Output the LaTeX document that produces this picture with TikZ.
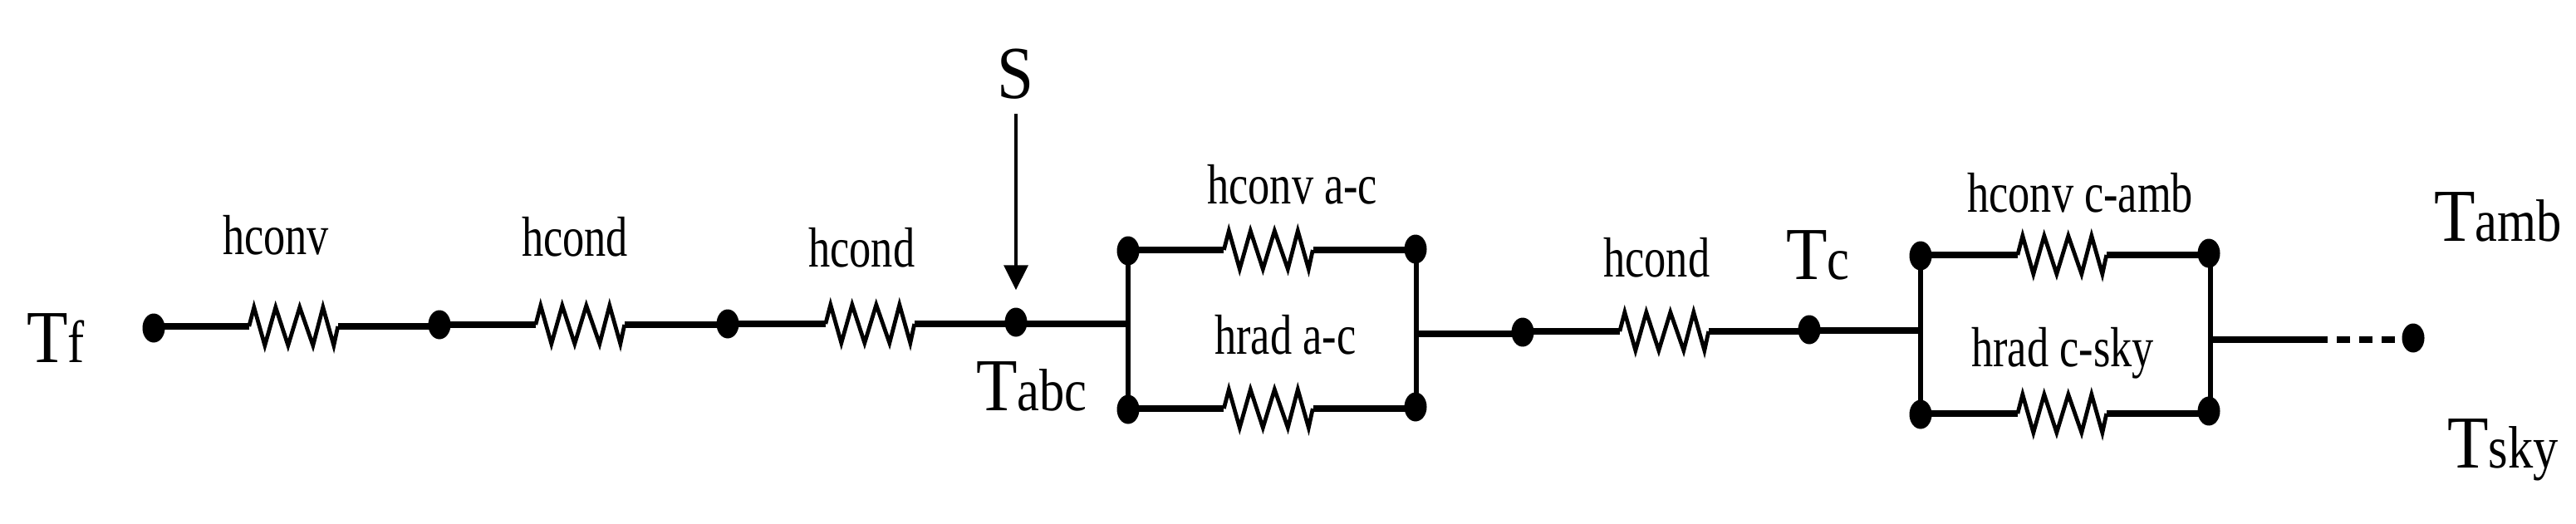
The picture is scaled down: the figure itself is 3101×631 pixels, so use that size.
\documentclass[tikz,border=0pt]{standalone}
\usepackage{fontspec}
\setmainfont{Liberation Serif}
\usetikzlibrary{shapes.geometric,arrows.meta}
\newcommand{\hlabel}[1]{\scalebox{.77}[1]{\fontsize{68}{68}\selectfont #1}}
\newcommand{\tlabel}[2]{\scalebox{.9}[1]{\fontsize{90}{90}\selectfont T}\scalebox{.84}[1]{\fontsize{72}{72}\selectfont #2}}
\newcommand{\zig}[1]{\draw[zigline] (#1.west) -- ++(6,-23) -- ++(13,46) -- ++(13,-46) -- ++(15,46) -- ++(14,-46) -- ++(16,46) -- ++(12,-46) -- ++(13,46) -- ++(5,-23);}
\tikzset{
  wire/.style={line width=7.5pt,black},
  vwire/.style={line width=6pt,black},
  zigline/.style={line width=4.8pt,black,line join=miter},
  dot/.style={ellipse,fill=black,draw=none,inner sep=0pt,minimum width=27pt,minimum height=35pt},
  res/.style={rectangle,draw=none,inner sep=0pt,minimum width=107pt,minimum height=44pt},
  txt/.style={inner sep=0pt,anchor=base west,text=black},
}
\begin{document}
\begin{tikzpicture}[x=1pt,y=-1pt]
\useasboundingbox (0,0) rectangle (3101,631);
% coordinates
\coordinate (jl1) at (1358,390);
\coordinate (jr1) at (1705,402);
\coordinate (jl2) at (2312,398);
\coordinate (jr2) at (2661,409);
\coordinate (dashstart) at (2802,409);
% resistors
\node[res] (r1) at (353.5,393) {};
\node[res] (r2) at (698.5,391) {};
\node[res] (r3) at (1047.5,390) {};
\node[res] (r4) at (1527,301) {};
\node[res] (r5) at (1527,492) {};
\node[res] (r6) at (2003.5,399) {};
\node[res] (r7) at (2482.5,307) {};
\node[res] (r8) at (2482.5,498) {};
% dots
\node[dot] (d1) at (185,395) {};
\node[dot] (d2) at (529,391) {};
\node[dot] (d3) at (876,390) {};
\node[dot] (d4) at (1223,388) {};
\node[dot] (tl1) at (1358,302) {};
\node[dot] (bl1) at (1358,493) {};
\node[dot] (tr1) at (1704,300) {};
\node[dot] (br1) at (1704,490) {};
\node[dot] (d5) at (1833,400) {};
\node[dot] (d6) at (2178,397) {};
\node[dot] (tl2) at (2312,308) {};
\node[dot] (bl2) at (2312,499) {};
\node[dot] (tr2) at (2659,305) {};
\node[dot] (br2) at (2659,495) {};
\node[dot] (d7) at (2905,407) {};
% wires
\draw[wire] (d1 |- r1.west) -- (r1.west);
\draw[wire] (r1.east) -- (d2 |- r1.east);
\draw[wire] (d2 |- r2.west) -- (r2.west);
\draw[wire] (r2.east) -- (d3 |- r2.east);
\draw[wire] (d3 |- r3.west) -- (r3.west);
\draw[wire] (r3.east) -- (d4 |- r3.east);
\draw[wire] (d4 |- jl1) -- (jl1);
\draw[wire] (tl1 |- r4.west) -- (r4.west);
\draw[wire] (r4.east) -- (tr1 |- r4.east);
\draw[wire] (bl1 |- r5.west) -- (r5.west);
\draw[wire] (r5.east) -- (br1 |- r5.east);
\draw[vwire] (tl1.center) -- (bl1.center);
\draw[vwire] (tr1.center -| jr1) -- (br1.center -| jr1);
\draw[wire] (jr1) -- (d5 |- jr1);
\draw[wire] (d5 |- r6.west) -- (r6.west);
\draw[wire] (r6.east) -- (d6 |- r6.east);
\draw[wire] (d6 |- jl2) -- (jl2);
\draw[wire] (tl2 |- r7.west) -- (r7.west);
\draw[wire] (r7.east) -- (tr2 |- r7.east);
\draw[wire] (bl2 |- r8.west) -- (r8.west);
\draw[wire] (r8.east) -- (br2 |- r8.east);
\draw[vwire] (tl2.center) -- (bl2.center);
\draw[vwire] (tr2.center -| jr2) -- (br2.center -| jr2);
\draw[wire] (jr2) -- (dashstart);
\draw[wire,dash pattern=on 16pt off 11pt,dash phase=16pt] (dashstart) -- (d7 |- dashstart);
% zigzags
\zig{r1}\zig{r2}\zig{r3}\zig{r4}\zig{r5}\zig{r6}\zig{r7}\zig{r8}
% labels
\node[txt] (tf) at (32,436) {\tlabel{T}{f}};
\node[txt] (l1) at (268,306) {\hlabel{hconv}};
\node[txt] (l2) at (628,308) {\hlabel{hcond}};
\node[txt] (l3) at (973,321) {\hlabel{hcond}};
\node[txt] (s) at (1200,119) {\scalebox{.88}[1]{\fontsize{90}{90}\selectfont S}};
\node[txt] (tabc) at (1175,494) {\tlabel{T}{abc}};
\node[txt] (l4) at (1453,245) {\hlabel{hconv a-c}};
\node[txt] (l5) at (1462,426) {\hlabel{hrad a-c}};
\node[txt] (l6) at (1930,333) {\hlabel{hcond}};
\node[txt] (tc) at (2150,336) {\tlabel{T}{c}};
\node[txt] (l7) at (2368,255) {\hlabel{hconv c-amb}};
\node[txt] (l8) at (2373,441) {\hlabel{hrad c-sky}};
\node[txt] (tamb) at (2930,290) {\tlabel{T}{amb}};
\node[txt] (tsky) at (2946,563) {\tlabel{T}{sky}};
% arrow
\draw[line width=3.5pt,-{Triangle[length=30pt,width=29pt]},shorten >=21pt,shorten <=17pt] (d4 |- s.south) -- (d4.north);
\end{tikzpicture}
\end{document}
